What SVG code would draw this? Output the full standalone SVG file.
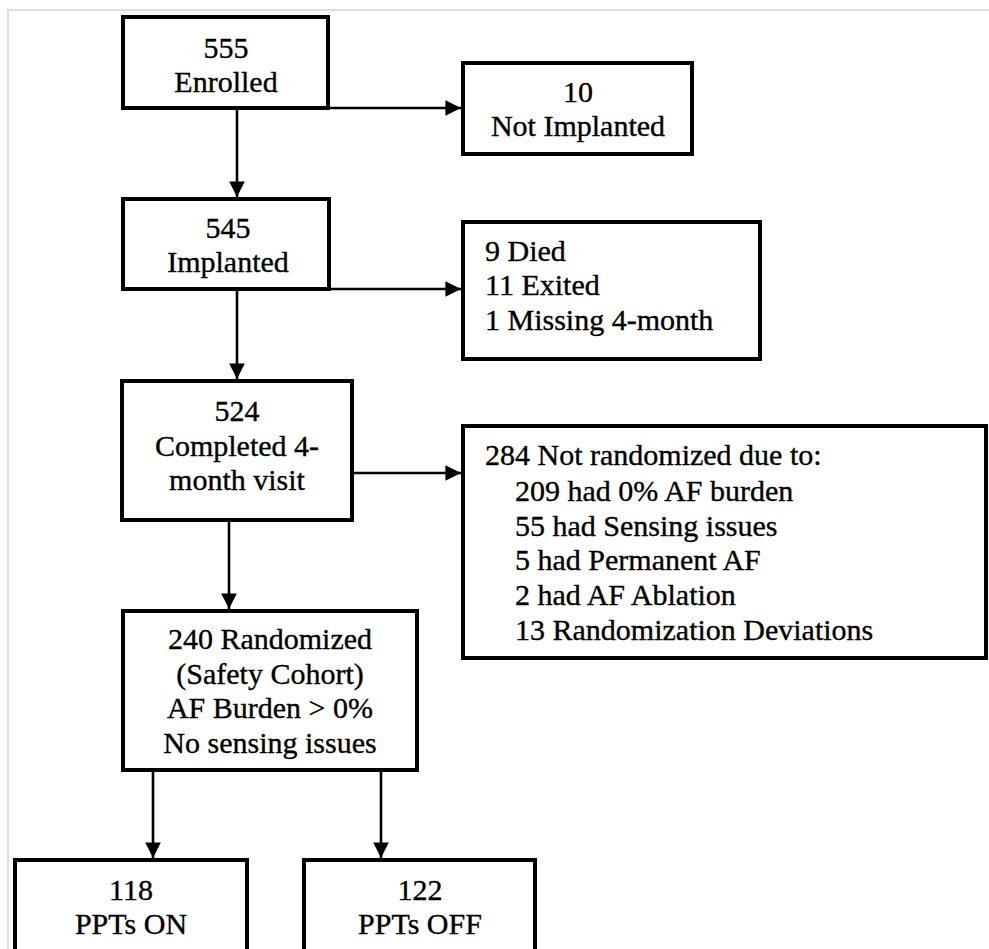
<svg xmlns="http://www.w3.org/2000/svg" width="989" height="949" viewBox="0 0 989 949">
  <style>
    .box { fill: #ffffff; stroke: #000000; stroke-width: 4; }
    .t { font-family: "Liberation Serif", "Times New Roman", serif; font-size: 30px; fill: #000000; stroke: #000000; stroke-width: 0.35; }
    .c { text-anchor: middle; }
    .edge { fill: none; stroke: #000000; stroke-width: 2.6; }
    .frame { fill: none; stroke: #d4d4d4; stroke-width: 1.5; }
  </style>
  <defs>
    <marker id="arrow" viewBox="0 0 10 10" refX="10" refY="5" markerWidth="6" markerHeight="6" markerUnits="strokeWidth" orient="auto">
      <path d="M0,0 L10,5 L0,10 z" fill="#000000"/>
    </marker>
  </defs>
  <rect width="989" height="949" fill="#ffffff"/>
  <path class="frame" d="M8,949 V10 H989"/>

  <g id="connectors">
    <path class="edge" d="M328,108 H461" marker-end="url(#arrow)"/>
    <path class="edge" d="M237,108 V197" marker-end="url(#arrow)"/>
    <path class="edge" d="M329,289 H461" marker-end="url(#arrow)"/>
    <path class="edge" d="M237,289 V379" marker-end="url(#arrow)"/>
    <path class="edge" d="M352,473 H461" marker-end="url(#arrow)"/>
    <path class="edge" d="M229,520 V609" marker-end="url(#arrow)"/>
    <path class="edge" d="M153,770 V858" marker-end="url(#arrow)"/>
    <path class="edge" d="M381,770 V858" marker-end="url(#arrow)"/>
  </g>

  <g id="enrolled">
    <rect class="box" x="123" y="17" width="205" height="91"/>
    <text class="t c" x="226" y="58">555</text>
    <text class="t c" x="226" y="92">Enrolled</text>
  </g>
  <g id="not-implanted">
    <rect class="box" x="463" y="63" width="229" height="91"/>
    <text class="t c" x="578" y="102">10</text>
    <text class="t c" x="578" y="136">Not Implanted</text>
  </g>
  <g id="implanted">
    <rect class="box" x="123" y="199" width="206" height="90"/>
    <text class="t c" x="228" y="238">545</text>
    <text class="t c" x="228" y="272">Implanted</text>
  </g>
  <g id="died-exited">
    <rect class="box" x="463" y="222" width="297" height="137"/>
    <text class="t" x="485" y="261">9 Died</text>
    <text class="t" x="485" y="295">11 Exited</text>
    <text class="t" x="485" y="330">1 Missing 4-month</text>
  </g>
  <g id="completed">
    <rect class="box" x="122" y="381" width="230" height="139"/>
    <text class="t c" x="237" y="421">524</text>
    <text class="t c" x="237" y="456">Completed 4-</text>
    <text class="t c" x="237" y="490">month visit</text>
  </g>
  <g id="not-randomized">
    <rect class="box" x="463" y="426" width="523" height="232"/>
    <text class="t" x="485" y="465">284 Not randomized due to:</text>
    <text class="t" x="515" y="501">209 had 0% AF burden</text>
    <text class="t" x="515" y="536">55 had Sensing issues</text>
    <text class="t" x="515" y="570">5 had Permanent AF</text>
    <text class="t" x="515" y="605">2 had AF Ablation</text>
    <text class="t" x="515" y="640">13 Randomization Deviations</text>
  </g>
  <g id="randomized">
    <rect class="box" x="123" y="611" width="294" height="159"/>
    <text class="t c" x="270" y="649">240 Randomized</text>
    <text class="t c" x="270" y="684">(Safety Cohort)</text>
    <text class="t c" x="270" y="718">AF Burden &gt; 0%</text>
    <text class="t c" x="270" y="753">No sensing issues</text>
  </g>
  <g id="ppts-on">
    <rect class="box" x="15" y="860" width="232" height="110"/>
    <text class="t c" x="131" y="900">118</text>
    <text class="t c" x="131" y="934">PPTs ON</text>
  </g>
  <g id="ppts-off">
    <rect class="box" x="304" y="860" width="231" height="110"/>
    <text class="t c" x="420" y="900">122</text>
    <text class="t c" x="420" y="934">PPTs OFF</text>
  </g>
</svg>
